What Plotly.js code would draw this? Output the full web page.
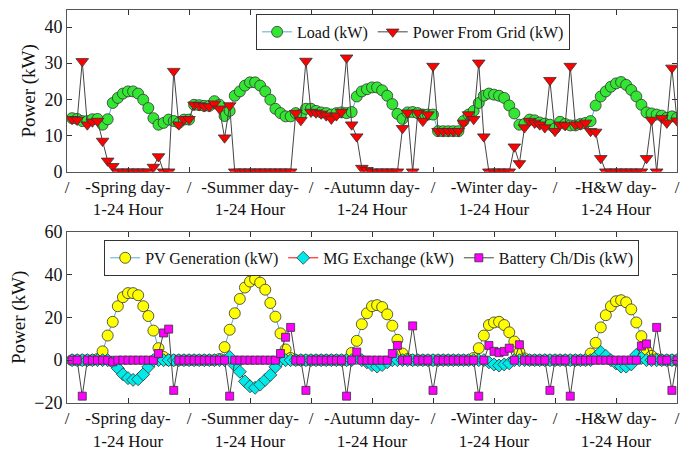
<!DOCTYPE html>
<html><head><meta charset="utf-8">
<script src="https://cdn.plot.ly/plotly-3.0.1.min.js"></script>
<style>html,body{margin:0;padding:0;background:#fff;font-family:'Liberation Serif','Times New Roman',serif}#chart{width:691px;height:454px}
#chart text{font-family:'Liberation Serif','Times New Roman',serif !important}</style>
</head><body><div id="chart"></div>
<script>
// hour index 1..120 (5 typical days x 24 h)
const hours = Array.from({length:120},(_,i)=>i+1);
const dayNames = ["-Spring day-","-Summer day-","-Autumn day-","-Winter day-","-H&amp;W day-"];
const hourLabel = "1-24 Hour";

const load = [
 14.8,14.6,14.0,14.0,14.5,14.6,13.0,14.5,19.0,20.4,21.6,22.2,22.2,21.6,19.9,17.6,14.8,13.0,13.5,14.4,14.0,13.5,14.4,14.4,
 18.5,18.4,18.2,18.2,19.5,18.5,15.4,16.8,21.0,22.2,23.8,24.7,24.7,23.8,22.2,19.9,17.4,16.2,15.3,15.3,16.2,15.8,17.4,17.4,
 16.8,16.4,16.2,15.8,16.2,16.4,16.2,16.5,20.8,22.2,22.8,23.3,23.3,22.5,21.0,18.7,16.0,14.6,16.4,16.5,16.2,15.8,15.8,15.8,
 11.2,11.2,11.2,11.2,11.2,14.0,15.8,16.8,19.0,21.0,21.6,21.3,21.0,20.4,18.3,16.1,13.0,13.2,14.4,14.2,13.6,13.3,13.0,12.0,
 13.8,13.2,12.8,12.8,13.2,13.5,14.0,18.3,20.8,22.2,23.5,24.4,24.8,24.0,22.6,20.8,18.5,16.4,16.1,15.8,15.5,14.9,15.3,14.9
];
const grid = [
 14.5,14.3,30.5,13.0,13.8,14.0,8.5,3.0,1.5,0,0,0,0,0,0,0,1.3,4.2,0,0,27.8,13.0,14.5,14.5,
 18.5,18.3,18.0,18.0,18.8,17.4,9.4,18.3,0,0,0,0,0,0,0,0,0,0,0,0,16.2,14.2,30.6,16.5,
 16.3,16.0,15.5,14.6,15.5,16.5,31.5,13.0,9.7,1.0,0.4,0,0,0,0,0,0,12.0,16.3,0,16.3,14.0,15.8,29.2,
 11.2,11.2,11.2,11.2,11.2,13.5,15.8,14.5,30.1,9.7,0,0,0,0,0,6.9,2.3,12.2,14.0,13.5,13.0,12.2,25.3,11.2,
 13.0,12.8,29.2,13.0,13.0,13.5,11.2,11.0,3.7,0,0,0,0,0,0,0,0,3.7,14.3,0,14.8,13.5,28.7,14.1
];
const pv = [
 0,0,0,0,0,0.5,4.1,11.5,17.9,25.2,29.4,31.3,31.3,30.3,25.2,20.6,13.8,5.6,1.5,0,0,0,0,0,
 0,0,0,0,0,0.5,6.1,14.2,21.9,28.6,33.9,36.7,37.8,36.2,32.9,26.7,20.3,12.5,5.0,1.0,0,0,0,0,
 0,0,0,0,0,0,0,3.4,9.0,16.8,21.9,25.2,25.7,24.8,21.4,16.1,9.5,3.1,0.5,0,0,0,0,0,
 0,0,0,0,0,0,0,1.0,5.6,11.5,16.4,17.6,17.9,16.4,13.0,8.7,3.8,0.8,0,0,0,0,0,0,
 0,0,0,0,0,0,3.1,8.1,15.3,21.0,25.2,27.5,28.0,27.0,23.7,17.6,11.2,4.6,2.0,0.5,0,0,0,0
];
const mg = [
 0,0,0,0,0,0,0,0,-1.0,-3.8,-6.6,-8.4,-9.2,-8.9,-6.6,-3.1,0,0,0,0,0,0,0,0,
 0,0,0,0,0,0,0,1.5,-2.5,-5.4,-9.9,-12.2,-12.9,-11.4,-9.2,-6.9,-3.1,0,0,0,0,0,0,0,
 0,0,0,0,0,0,0,0,1.0,0,-1.0,-2.3,-3.0,-2.3,-1.0,0,0,0,0,0,0,0,0,0,
 0,0,0,0,0,0,0,0,0,0,-1.0,-2.0,-2.5,-2.0,-1.5,0,0,0,0,0,0,0,0,0,
 0,0,0,0,0,0,0,1.5,3.8,2.0,0,-1.5,-3.0,-3.0,-2.0,2.5,1.0,0,0,0,0,0,0,0
];
const battery = [
 0,0,-16.8,0,0,0,0,0,-0.8,0,0,0,0,0,0,0,0,3.1,12.7,14.5,-14.1,0,0,0,
 0,0,0,0,0,0,0,-16.8,0,0,0,0,0,0,0,0,0,3.1,10.7,15.3,0,0,-14.1,0,
 0,0,0,0,0,0,-16.8,0,3.8,0,0,0,0,0,0,3.1,6.9,0,0,16.0,0,0,0,-14.1,
 0,0,0,0,0,0,0,0,-16.8,0,6.9,4.1,3.5,4.1,5.6,0,7.2,0,0,0,0,0,-14.1,0,
 0,0,-16.8,0,0,0,0,0,0,0,0,0,0,0,0,0,6.6,7.6,0,15.3,0,0,-14.1,0
];

const tickVals = [], tickText = [];
for (let d=0; d<=dayNames.length*2; d++){
  tickVals.push(d*12);
  tickText.push(d%2===0 ? "/" : dayNames[(d-1)/2] + "<br>" + hourLabel);
}

const FONT = "Times New Roman";
const edge = {color:"#333", width:0.8};

const traces = [
 {x:hours, y:load, name:"Load (kW)", mode:"lines+markers", xaxis:"x", yaxis:"y",
  line:{color:"#5aa7d8", width:1}, marker:{symbol:"circle", size:11, color:"#33e633", line:edge}},
 {x:hours, y:grid, name:"Power From Grid (kW)", mode:"lines+markers", xaxis:"x", yaxis:"y",
  line:{color:"#444", width:1}, marker:{symbol:"triangle-down", size:11, color:"#ff0000", line:edge}},
 {x:hours, y:pv, name:"PV Generation (kW)", mode:"lines+markers", xaxis:"x2", yaxis:"y2", legend:"legend2",
  line:{color:"#5aa7d8", width:1}, marker:{symbol:"circle", size:11, color:"#ffff00", line:edge}},
 {x:hours, y:mg, name:"MG Exchange (kW)", mode:"lines+markers", xaxis:"x2", yaxis:"y2", legend:"legend2",
  line:{color:"#ff0000", width:1}, marker:{symbol:"diamond", size:10, color:"#00eaea", line:edge}},
 {x:hours, y:battery, name:"Battery Ch/Dis (kW)", mode:"lines+markers", xaxis:"x2", yaxis:"y2", legend:"legend2",
  line:{color:"#444", width:1}, marker:{symbol:"square", size:8, color:"#ff00ff", line:edge}}
];

function tf(size){ return {family:FONT, size:size, color:"#111"}; }

const layout = {
  width:691, height:454, margin:{l:67, r:14, t:10, b:51},
  paper_bgcolor:"#fff", plot_bgcolor:"#fff", font:tf(16),
  xaxis:{domain:[0,1], anchor:"y", range:[0,120], tickvals:tickVals, ticktext:tickText, ticks:"inside", ticklen:5,
    tickcolor:"#333", showline:true, mirror:"ticks", linecolor:"#555", linewidth:1, showgrid:false,
    zeroline:false, tickfont:tf(17), tickangle:0},
  xaxis2:{domain:[0,1], anchor:"y2", range:[0,120], tickvals:tickVals, ticktext:tickText, ticks:"inside", ticklen:5,
    tickcolor:"#333", showline:true, mirror:"ticks", linecolor:"#555", linewidth:1, showgrid:false,
    zeroline:false, tickfont:tf(17), tickangle:0},
  yaxis:{domain:[0.5885,1], anchor:"x", range:[0,44.7], tickvals:[0,10,20,30,40], ticks:"inside", ticklen:5,
    tickcolor:"#333", showline:true, mirror:"ticks", linecolor:"#555", linewidth:1, showgrid:false, zeroline:false,
    tickfont:tf(18), title:{text:"Power (kW)", font:tf(19), standoff:3}},
  yaxis2:{domain:[0,0.436], anchor:"x2", range:[-20,60], tickvals:[-20,0,20,40,60], ticks:"inside", ticklen:5,
    tickcolor:"#333", showline:true, mirror:"ticks", linecolor:"#555", linewidth:1, showgrid:false, zeroline:false,
    tickfont:tf(18), title:{text:"Power (kW)", font:tf(19), standoff:3}},
  legend:{orientation:"h", x:0.31, y:0.99, xanchor:"left", yanchor:"top", bgcolor:"#fff",
     bordercolor:"#333", borderwidth:1, font:tf(16)},
  legend2:{orientation:"h", x:0.061, y:0.415, xanchor:"left", yanchor:"top", bgcolor:"#fff",
     bordercolor:"#333", borderwidth:1, font:tf(16)},
  showlegend:true
};

Plotly.newPlot("chart", traces, layout, {staticPlot:true, displayModeBar:false}).then(function(){
  document.querySelectorAll("#chart text").forEach(function(t){
    t.style.setProperty("font-family", "'Liberation Serif','Times New Roman',serif", "important");
  });
});
</script></body></html>
